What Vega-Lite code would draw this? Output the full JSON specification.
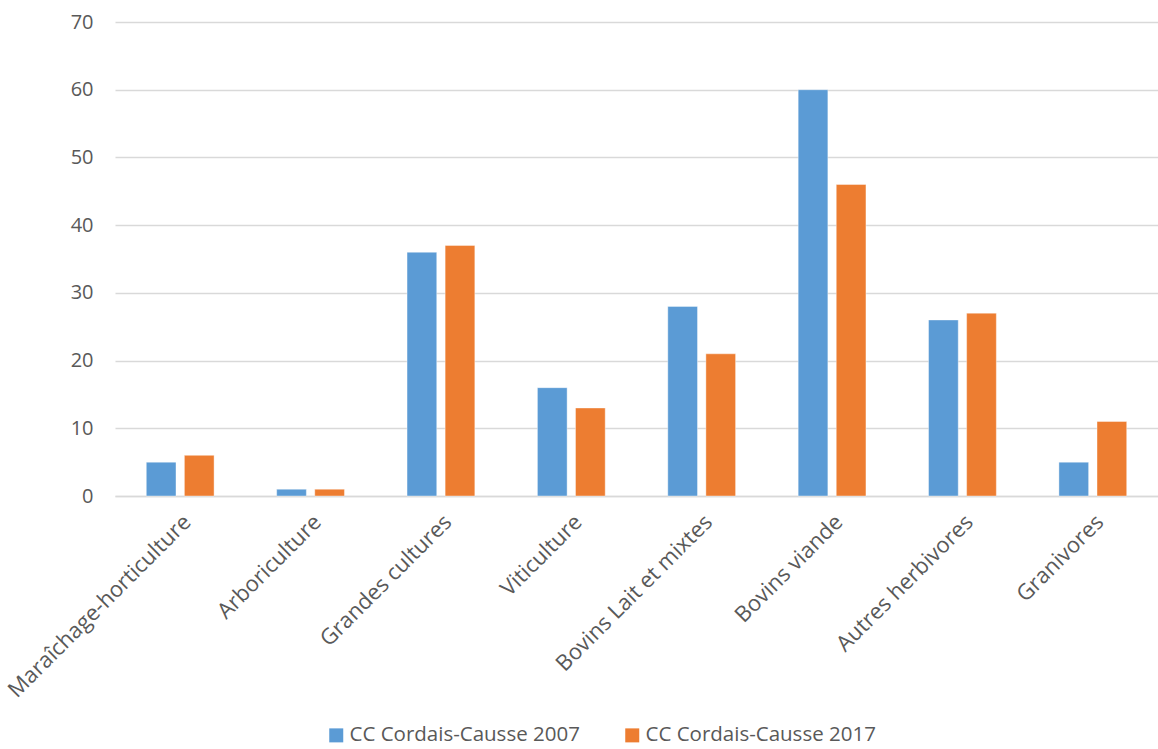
{
  "$schema": "https://vega.github.io/schema/vega-lite/v6.json",
  "width": 1043,
  "height": 474,
  "autosize": {"type": "none"},
  "padding": {"left": 115, "top": 22, "right": 0, "bottom": 253},
  "background": "white",
  "config": {
    "view": {"stroke": null},
    "font": "Open Sans"
  },
  "data": {
    "values": [
      {"cat": "Maraîchage-horticulture", "serie": "CC Cordais-Causse 2007", "v": 5},
      {"cat": "Maraîchage-horticulture", "serie": "CC Cordais-Causse 2017", "v": 6},
      {"cat": "Arboriculture", "serie": "CC Cordais-Causse 2007", "v": 1},
      {"cat": "Arboriculture", "serie": "CC Cordais-Causse 2017", "v": 1},
      {"cat": "Grandes cultures", "serie": "CC Cordais-Causse 2007", "v": 36},
      {"cat": "Grandes cultures", "serie": "CC Cordais-Causse 2017", "v": 37},
      {"cat": "Viticulture", "serie": "CC Cordais-Causse 2007", "v": 16},
      {"cat": "Viticulture", "serie": "CC Cordais-Causse 2017", "v": 13},
      {"cat": "Bovins Lait et mixtes", "serie": "CC Cordais-Causse 2007", "v": 28},
      {"cat": "Bovins Lait et mixtes", "serie": "CC Cordais-Causse 2017", "v": 21},
      {"cat": "Bovins viande", "serie": "CC Cordais-Causse 2007", "v": 60},
      {"cat": "Bovins viande", "serie": "CC Cordais-Causse 2017", "v": 46},
      {"cat": "Autres herbivores", "serie": "CC Cordais-Causse 2007", "v": 26},
      {"cat": "Autres herbivores", "serie": "CC Cordais-Causse 2017", "v": 27},
      {"cat": "Granivores", "serie": "CC Cordais-Causse 2007", "v": 5},
      {"cat": "Granivores", "serie": "CC Cordais-Causse 2017", "v": 11}
    ]
  },
  "mark": {"type": "bar", "stroke": "white", "strokeOpacity": 0.4, "strokeWidth": 1},
  "encoding": {
    "x": {
      "field": "cat", "type": "nominal", "sort": null,
      "scale": {"paddingInner": 0.48, "paddingOuter": 0.24},
      "axis": {
        "title": null, "labelAngle": -45, "labelAlign": "right", "labelBaseline": "top",
        "labelFontSize": 22, "labelColor": "#595959", "labelPadding": 15,
        "ticks": false, "domainColor": "#d9d9d9", "domainWidth": 1.5, "labelLimit": 0
      }
    },
    "xOffset": {
      "field": "serie", "type": "nominal",
      "scale": {"paddingInner": 0.22, "paddingOuter": 0}
    },
    "y": {
      "field": "v", "type": "quantitative",
      "scale": {"domain": [0, 70]},
      "axis": {
        "title": null, "values": [0, 10, 20, 30, 40, 50, 60, 70],
        "labelFontSize": 20, "labelColor": "#595959", "labelPadding": 22,
        "ticks": false, "domain": false, "gridColor": "#d9d9d9", "gridWidth": 1.5
      }
    },
    "color": {
      "field": "serie", "type": "nominal",
      "scale": {"range": ["#5b9bd5", "#ed7d31"]},
      "legend": {
        "title": null, "orient": "none", "direction": "horizontal",
        "legendX": 211, "legendY": 703,
        "symbolType": "square", "symbolSize": 196, "symbolStrokeWidth": 0,
        "labelFontSize": 20.5, "labelColor": "#595959", "columnPadding": 42, "labelOffset": 3, "labelLimit": 0
      }
    }
  }
}
